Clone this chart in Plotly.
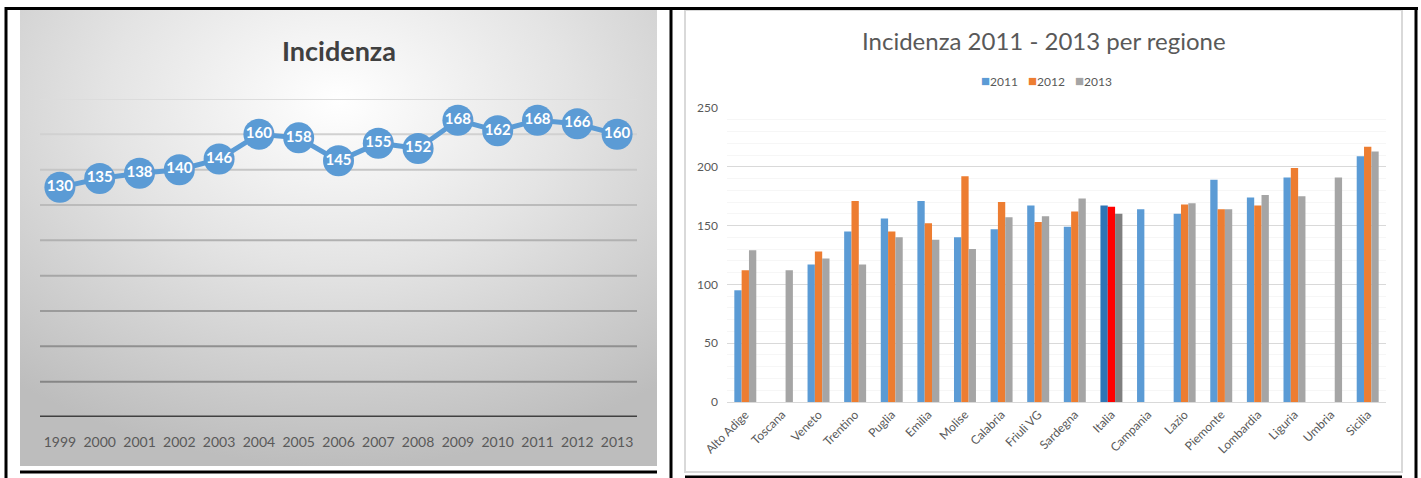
import base64
import plotly.graph_objects as go

# ---------------- data ----------------
years = ["1999", "2000", "2001", "2002", "2003", "2004", "2005", "2006",
         "2007", "2008", "2009", "2010", "2011", "2012", "2013"]
incidenza = [130, 135, 138, 140, 146, 160, 158, 145, 155, 152, 168, 162, 168, 166, 160]

regioni = ["Alto Adige", "Toscana", "Veneto", "Trentino", "Puglia", "Emilia", "Molise",
           "Calabria", "Friuli VG", "Sardegna", "Italia", "Campania", "Lazio",
           "Piemonte", "Lombardia", "Liguria", "Umbria", "Sicilia"]
v2011 = [95, None, 117, 145, 156, 171, 140, 147, 167, 149, 167, 164, 160, 189, 174, 191, None, 209]
v2012 = [112, None, 128, 171, 145, 152, 192, 170, 153, 162, 166, None, 168, 164, 167, 199, None, 217]
v2013 = [129, 112, 122, 117, 140, 138, 130, 157, 158, 173, 160, None, 169, 164, 176, 175, 191, 213]
series_names = ["2011", "2012", "2013"]

# ---------------- styling helpers ----------------
W, H = 1421, 478
def px(x):
    return x / W
def py(y):
    return 1 - y / H

FONT = "Lato, 'Open Sans', sans-serif"
base_cols = ["#5b9bd5", "#ed7d31", "#a5a5a5"]
italia_cols = ["#2e75b6", "#ff0000", "#7f7f7f"]
highlight = "Italia"

fig = go.Figure()

# ---------------- left: line chart ----------------
fig.add_trace(go.Scatter(
    x=years, y=incidenza, mode="lines+markers+text",
    text=[str(v) for v in incidenza], textposition="middle center",
    textfont=dict(family=FONT, size=15, color="white", weight="bold"),
    line=dict(color="#5b9bd5", width=5),
    marker=dict(size=31, color="#5b9bd5"),
    xaxis="x", yaxis="y", showlegend=False, cliponaxis=False,
))

# ---------------- right: grouped bars ----------------
for name, vals, bc, ic in zip(series_names, [v2011, v2012, v2013], base_cols, italia_cols):
    colors = [ic if r == highlight else bc for r in regioni]
    fig.add_trace(go.Bar(
        x=regioni, y=vals, name=name, marker=dict(color=colors, line=dict(width=0)),
        xaxis="x2", yaxis="y2", showlegend=False,
    ))

# background gradient for left panel (SVG data URI)
gw, gh = 637, 456
svg = (f'<svg xmlns="http://www.w3.org/2000/svg" width="{gw}" height="{gh}" viewBox="0 0 {gw} {gh}">'
       '<defs><radialGradient id="g" cx="0.5" cy="0.2" r="0.8">'
       '<stop offset="0" stop-color="#ffffff"/><stop offset="0.45" stop-color="#e4e4e4"/>'
       '<stop offset="1" stop-color="#bdbdbd"/></radialGradient></defs>'
       f'<rect width="{gw}" height="{gh}" fill="url(#g)"/></svg>')
svg_uri = "data:image/svg+xml;base64," + base64.b64encode(svg.encode()).decode()

shapes = []
# left gridlines with darkening tones
grid_vals = list(range(20, 181, 20))
for i, gv in enumerate(sorted(grid_vals, reverse=True)):
    t = i / (len(grid_vals) - 1)
    c = int(220 - t * (220 - 134))
    shapes.append(dict(type="line", xref="x domain", yref="y", x0=0, x1=1, y0=gv, y1=gv,
                       line=dict(color=f"rgb({c},{c},{c})", width=2), layer="below"))
shapes.append(dict(type="line", xref="x domain", yref="y", x0=0, x1=1, y0=0, y1=0,
                   line=dict(color="#404040", width=3), layer="below"))

# right panel frame
shapes.append(dict(type="rect", xref="paper", yref="paper", x0=px(685), x1=px(1402),
                   y0=py(472), y1=py(10), line=dict(color="#d9d9d9", width=2),
                   fillcolor="white", layer="below"))
# black table borders
blk = dict(color="black", width=3)
shapes += [
    dict(type="line", xref="paper", yref="paper", x0=px(5), x1=px(1418), y0=py(8.5), y1=py(8.5), line=blk),
    dict(type="line", xref="paper", yref="paper", x0=px(6), x1=px(6), y0=py(7), y1=py(478), line=blk),
    dict(type="line", xref="paper", yref="paper", x0=px(671), x1=px(671), y0=py(7), y1=py(478), line=blk),
    dict(type="line", xref="paper", yref="paper", x0=px(1416), x1=px(1416), y0=py(7), y1=py(478), line=blk),
    dict(type="line", xref="paper", yref="paper", x0=px(20), x1=px(657), y0=py(472), y1=py(472), line=blk),
    dict(type="line", xref="paper", yref="paper", x0=px(685), x1=px(1402), y0=py(477), y1=py(477), line=blk),
]

annotations = [
    dict(text="<b>Incidenza</b>", xref="paper", yref="paper", x=px(339), y=py(50),
         showarrow=False, xanchor="center", yanchor="middle",
         font=dict(family=FONT, size=27, color="#404040")),
    dict(text="Incidenza 2011 - 2013 per regione", xref="paper", yref="paper", x=px(1044), y=py(41),
         showarrow=False, xanchor="center", yanchor="middle",
         font=dict(family=FONT, size=24, color="#595959")),
]
# compact legend (square + label), Excel style
for i, (name, c) in enumerate(zip(series_names, base_cols)):
    annotations.append(dict(
        text=f"<span style='color:{c};font-size:15px'>■</span>{name}", xref="paper", yref="paper",
        x=px(979 + 47 * i), y=py(80), showarrow=False, xanchor="left", yanchor="middle",
        font=dict(family=FONT, size=12, color="#595959")))

fig.update_layout(
    width=W, height=H, margin=dict(l=0, r=0, t=0, b=0, autoexpand=False),
    paper_bgcolor="white", plot_bgcolor="rgba(0,0,0,0)",
    font=dict(family=FONT, color="#595959"),
    barmode="group", bargap=0.40, bargroupgap=0, showlegend=False,
    images=[dict(source=svg_uri, xref="paper", yref="paper", x=px(20), y=py(10),
                 sizex=px(gw), sizey=gh / H, xanchor="left", yanchor="top",
                 sizing="stretch", layer="below")],
    shapes=shapes, annotations=annotations,
    xaxis=dict(domain=[px(40), px(637)], range=[-0.5, len(years) - 0.5], showgrid=False,
               zeroline=False, showline=False, ticks="outside", ticklen=0, automargin=False,
               ticklabelstandoff=12, tickfont=dict(family=FONT, size=14, color="#595959")),
    yaxis=dict(domain=[py(417), py(99)], range=[0, 180], showgrid=False, zeroline=False,
               showticklabels=False, showline=False, automargin=False),
    xaxis2=dict(domain=[px(727), px(1386)], range=[-0.5, len(regioni) - 0.5], showgrid=False,
                zeroline=False, showline=True, linecolor="#d9d9d9", linewidth=1,
                tickangle=-45, tickfont=dict(family=FONT, size=12, color="#595959"),
                anchor="y2", automargin=False),
    yaxis2=dict(domain=[py(402), py(108)], range=[0, 250], dtick=50, showgrid=True,
                gridcolor="#d9d9d9", gridwidth=1, zeroline=False, showline=False,
                tickfont=dict(family=FONT, size=12, color="#595959"), anchor="x2",
                ticklabelstandoff=8, automargin=False,
                minor=dict(dtick=10, showgrid=True, gridcolor="#f6f6f6", gridwidth=1)),
)

fig.write_html("out.html")
